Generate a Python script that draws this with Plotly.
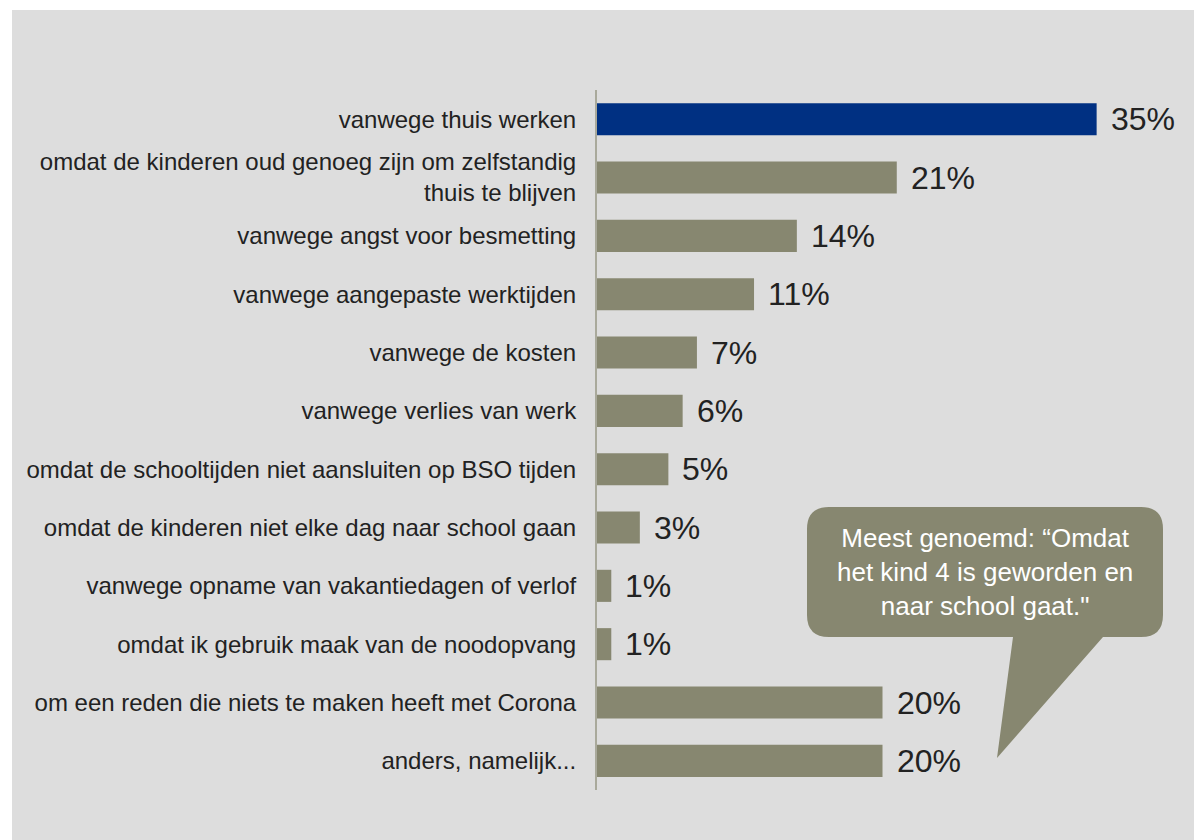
import plotly.graph_objects as go

categories = [
    "vanwege thuis werken",
    "omdat de kinderen oud genoeg zijn om zelfstandig<br>thuis te blijven",
    "vanwege angst voor besmetting",
    "vanwege aangepaste werktijden",
    "vanwege de kosten",
    "vanwege verlies van werk",
    "omdat de schooltijden niet aansluiten op BSO tijden",
    "omdat de kinderen niet elke dag naar school gaan",
    "vanwege opname van vakantiedagen of verlof",
    "omdat ik gebruik maak van de noodopvang",
    "om een reden die niets te maken heeft met Corona",
    "anders, namelijk...",
]
values = [35, 21, 14, 11, 7, 6, 5, 3, 1, 1, 20, 20]
value_labels = ["35%", "21%", "14%", "11%", "7%", "6%", "5%", "3%", "1%", "1%", "20%", "20%"]
bubble_text = "Meest genoemd: “Omdat<br>het kind 4 is geworden en<br>naar school gaat.\""

BLUE = "#003082"
OLIVE = "#878770"
BG = "#dddddd"
FONT = "Liberation Sans, Arial, sans-serif"

W, H = 1194, 840
ML, MT, MB = 597, 90, 50
PW = 571
MR = W - ML - PW
PH = H - MT - MB


def px(x):
    return (x - ML) / PW


def py(y):
    return (H - MB - y) / PH


colors = [BLUE] + [OLIVE] * (len(values) - 1)

fig = go.Figure()
fig.add_trace(go.Bar(
    x=values, y=categories, orientation="h",
    marker=dict(color=colors, line=dict(width=0)),
    width=0.55, hoverinfo="skip",
))

for c, v, t in zip(categories, values, value_labels):
    fig.add_annotation(x=v, y=c, xref="x", yref="y", text=t, showarrow=False,
                       xanchor="left", yanchor="middle", xshift=12,
                       font=dict(family=FONT, size=32, color="#222222"))

# background panel
fig.add_shape(type="rect", xref="paper", yref="paper",
              x0=px(12), x1=px(1210), y0=py(10), y1=py(850),
              fillcolor=BG, line=dict(width=0), layer="below")

# speech bubble
x0, x1, y0, y1, r = 807, 1163, 507, 637, 22
tail = [(1103, y1), (997, 758), (1013, y1)]


def P(a, b):
    return f"{px(a):.5f},{py(b):.5f}"


path = (f"M {P(x0 + r, y0)} L {P(x1 - r, y0)} Q {P(x1, y0)} {P(x1, y0 + r)} "
        f"L {P(x1, y1 - r)} Q {P(x1, y1)} {P(x1 - r, y1)} "
        f"L {P(*tail[0])} L {P(*tail[1])} L {P(*tail[2])} "
        f"L {P(x0 + r, y1)} Q {P(x0, y1)} {P(x0, y1 - r)} "
        f"L {P(x0, y0 + r)} Q {P(x0, y0)} {P(x0 + r, y0)} Z")
fig.add_shape(type="path", xref="paper", yref="paper", path=path,
              fillcolor=OLIVE, line=dict(width=0), layer="above")
fig.add_annotation(x=px(985), y=py(572), xref="paper", yref="paper",
                   text=bubble_text, showarrow=False, align="center",
                   xanchor="center", yanchor="middle",
                   font=dict(family=FONT, size=26, color="#ffffff"))

fig.update_layout(
    width=W, height=H,
    margin=dict(l=ML, r=MR, t=MT, b=MB, pad=0),
    paper_bgcolor="#ffffff", plot_bgcolor="rgba(0,0,0,0)",
    showlegend=False,
    xaxis=dict(range=[0, 40], visible=False, fixedrange=True),
    yaxis=dict(range=[11.5, -0.5], type="category", showgrid=False,
               showline=True, linecolor="#a9a99b", linewidth=2,
               ticks="", ticklabelstandoff=14,
               tickfont=dict(family=FONT, size=24, color="#222222"),
               fixedrange=True),
)

fig.write_html(
    "out.html",
    config={"displayModeBar": False},
    post_script="document.body.style.margin='0';document.body.style.overflow='hidden';",
)
